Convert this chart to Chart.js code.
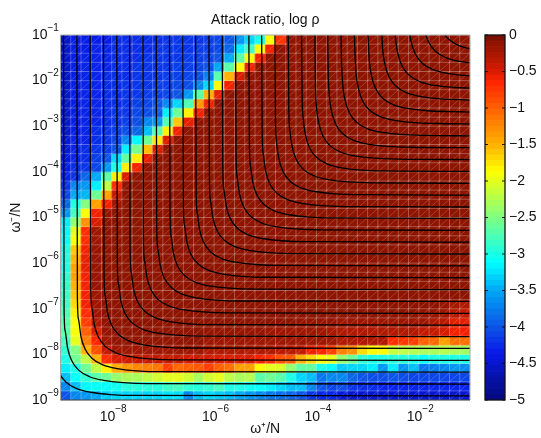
<!DOCTYPE html>
<html>
<head>
<meta charset="utf-8">
<script src="https://cdn.jsdelivr.net/npm/chart.js@4/dist/chart.umd.min.js"></script>
<style>
  body { margin: 0; background: #fff; }
  canvas { position: absolute; top: 0; }
  #main { left: 0; }
  #bar { left: 470px; }
</style>
</head>
<body>
<canvas id="main" width="480" height="438"></canvas>
<canvas id="bar" width="71" height="438"></canvas>
<script>
// log10 of omega+/N and omega-/N at the cell edges
const xEdges = [-9,-8.8,-8.6,-8.4,-8.2,-8,-7.8,-7.6,-7.4,-7.2,-7,-6.8,-6.6,-6.4,-6.2,-6,-5.8,-5.6,-5.4,-5.2,-5,-4.8,-4.6,-4.4,-4.2,-4,-3.8,-3.6,-3.4,-3.2,-3,-2.8,-2.6,-2.4,-2.2,-2,-1.8,-1.6,-1.4,-1.2,-1];
const yEdges = [-1,-1.2,-1.4,-1.6,-1.8,-2,-2.2,-2.4,-2.6,-2.8,-3,-3.2,-3.4,-3.6,-3.8,-4,-4.2,-4.4,-4.6,-4.8,-5,-5.2,-5.4,-5.6,-5.8,-6,-6.2,-6.4,-6.6,-6.8,-7,-7.2,-7.4,-7.6,-7.8,-8,-8.2,-8.4,-8.6,-8.8,-9];

const xTickValues = [-8, -6, -4, -2];
const xTickExponents = ['−8', '−6', '−4', '−2'];
const yTickValues = [-9, -8, -7, -6, -5, -4, -3, -2, -1];
const yTickExponents = ['−9', '−8', '−7', '−6', '−5', '−4', '−3', '−2', '−1'];
const barTickValues = [-5, -4.5, -4, -3.5, -3, -2.5, -2, -1.5, -1, -0.5, 0];
const barTickLabels = ['−5', '−4.5', '−4', '−3.5', '−3', '−2.5', '−2', '−1.5', '−1', '−0.5', '0'];

// log rho per cell, top row first
const D = -0.1;
const logRho = [
  [-4.5,-4.35,-4.35,-4.35,-4.35,-4.25,-4.25,-4.25,-4.25,-4.25, -4.2,-4.2,-4.2,-4.2,-4.15,-4.1,-4,-3.6,-3.3,-3, -1.9,-0.75,D,D,D,D,D,D,D,D, D,D,D,D,D,D,D,D,D,D],
  [-4.5,-4.35,-4.35,-4.3,-4.3,-4.25,-4.25,-4.25,-4.25,-4.2, -4.2,-4.2,-4.2,-4.15,-4.15,-4.1,-3.9,-3.2,-2.8,-1.9, -0.6,D,D,D,D,D,D,D,D,D, D,D,D,D,D,D,D,D,D,D],
  [-4.5,-4.35,-4.3,-4.3,-4.3,-4.25,-4.25,-4.25,-4.2,-4.2, -4.2,-4.2,-4.15,-4.15,-4.1,-4,-3.5,-2.7,-1.9,-0.6, D,D,D,D,D,D,D,D,D,D, D,D,D,D,D,D,D,D,D,D],
  [-4.5,-4.35,-4.3,-4.3,-4.3,-4.25,-4.25,-4.2,-4.2,-4.2, -4.2,-4.15,-4.15,-4.1,-4,-3.5,-2.7,-1.85,-0.6,D, D,D,D,D,D,D,D,D,D,D, D,D,D,D,D,D,D,D,D,D],
  [-4.5,-4.35,-4.3,-4.3,-4.25,-4.25,-4.25,-4.2,-4.2,-4.2, -4.15,-4.15,-4.1,-4.05,-3.75,-2.7,-1.5,-0.5,D,D, D,D,D,D,D,D,D,D,D,D, D,D,D,D,D,D,D,D,D,D],
  [-4.5,-4.35,-4.3,-4.3,-4.25,-4.25,-4.2,-4.2,-4.2,-4.15, -4.15,-4.1,-4.05,-3.7,-3.3,-1.85,-0.6,D,D,D, D,D,D,D,D,D,D,D,D,D, D,D,D,D,D,D,D,D,D,D],
  [-4.5,-4.35,-4.3,-4.3,-4.25,-4.25,-4.2,-4.2,-4.15,-4.15, -4.1,-4,-3.6,-2.7,-1.5,-0.55,D,D,D,D, D,D,D,D,D,D,D,D,D,D, D,D,D,D,D,D,D,D,D,D],
  [-4.5,-4.35,-4.3,-4.3,-4.25,-4.25,-4.2,-4.15,-4.1,-4, -3.7,-3.3,-2.75,-1.35,-0.6,D,D,D,D,D, D,D,D,D,D,D,D,D,D,D, D,D,D,D,D,D,D,D,D,D],
  [-4.5,-4.35,-4.3,-4.3,-4.25,-4.2,-4.2,-4.1,-4.05,-3.95, -3.2,-2.6,-1.8,-0.6,D,D,D,D,D,D, D,D,D,D,D,D,D,D,D,D, D,D,D,D,D,D,D,D,D,D],
  [-4.5,-4.35,-4.3,-4.3,-4.25,-4.2,-4.15,-4.05,-3.7,-3.6, -2.75,-1.6,-0.55,D,D,D,D,D,D,D, D,D,D,D,D,D,D,D,D,D, D,D,D,D,D,D,D,D,D,D],
  [-4.5,-4.35,-4.3,-4.25,-4.2,-4.15,-4.05,-3.9,-3.4,-2.7, -1.8,-0.6,D,D,D,D,D,D,D,D, D,D,D,D,D,D,D,D,D,D, D,D,D,D,D,D,D,D,D,D],
  [-4.45,-4.3,-4.3,-4.25,-4.2,-4.1,-3.7,-3.15,-2.6,-1.75, -0.5,D,D,D,D,D,D,D,D,D, D,D,D,D,D,D,D,D,D,D, D,D,D,D,D,D,D,D,D,D],
  [-4.45,-4.3,-4.25,-4.2,-4.15,-4,-3.2,-2.55,-1.55,-0.5, D,D,D,D,D,D,D,D,D,D, D,D,D,D,D,D,D,D,D,D, D,D,D,D,D,D,D,D,D,D],
  [-4.4,-4.3,-4.25,-4.15,-4,-3.3,-2.65,-1.8,-0.55,D, D,D,D,D,D,D,D,D,D,D, D,D,D,D,D,D,D,D,D,D, D,D,D,D,D,D,D,D,D,D],
  [-4.35,-4.25,-4.2,-4.1,-3.6,-3,-1.8,-0.6,D,D, D,D,D,D,D,D,D,D,D,D, D,D,D,D,D,D,D,D,D,D, D,D,D,D,D,D,D,D,D,D],
  [-4.3,-4.2,-3.9,-3.5,-2.7,-1.8,-0.5,D,D,D, D,D,D,D,D,D,D,D,D,D, D,D,D,D,D,D,D,D,D,D, D,D,D,D,D,D,D,D,D,D],
  [-4.2,-3.7,-3.6,-3.2,-2.2,-0.7,D,D,D,D, D,D,D,D,D,D,D,D,D,D, D,D,D,D,D,D,D,D,D,D, D,D,D,D,D,D,D,D,D,D],
  [-4.1,-3.5,-3.45,-2.6,-1.4,-0.4,D,D,D,D, D,D,D,D,D,D,D,D,D,D, D,D,D,D,D,D,D,D,D,D, D,D,D,D,D,D,D,D,D,D],
  [-3.9,-3,-2.5,-1.4,-0.6,-0.2,D,D,D,D, D,D,D,D,D,D,D,D,D,D, D,D,D,D,D,D,D,D,D,D, D,D,D,D,D,D,D,D,D,D],
  [-3.6,-2.8,-1.9,-0.6,-0.15,D,D,D,D,D, D,D,D,D,D,D,D,D,D,D, D,D,D,D,D,D,D,D,D,D, D,D,D,D,D,D,D,D,D,D],
  [-3.2,-2.4,-1.3,-0.5,D,D,D,D,D,D, D,D,D,D,D,D,D,D,D,D, D,D,D,D,D,D,D,D,D,D, D,D,D,D,D,D,D,D,D,D],
  [-3.15,-2,-0.7,-0.2,D,D,D,D,D,D, D,D,D,D,D,D,D,D,D,D, D,D,D,D,D,D,D,D,D,D, D,D,D,D,D,D,D,D,D,D],
  [-3.1,-1.9,-0.7,-0.2,D,D,D,D,D,D, D,D,D,D,D,D,D,D,D,D, D,D,D,D,D,D,D,D,D,D, D,D,D,D,D,D,D,D,D,D],
  [-3,-1.6,-0.6,-0.15,D,D,D,D,D,D, D,D,D,D,D,D,D,D,D,D, D,D,D,D,D,D,D,D,D,D, D,D,D,D,D,D,D,D,D,D],
  [-3,-1.5,-0.55,-0.15,D,D,D,D,D,D, D,D,D,D,D,D,D,D,D,D, D,D,D,D,D,D,D,D,D,D, D,D,D,D,D,D,D,D,D,D],
  [-3,-1.4,-0.55,-0.15,D,D,D,D,D,D, D,D,D,D,D,D,D,D,D,D, D,D,D,D,D,D,D,D,D,D, D,D,D,D,D,D,D,D,D,D],
  [-2.95,-1.4,-0.6,-0.15,D,D,D,D,D,D, D,D,D,D,D,D,D,D,D,D, D,D,D,D,D,D,D,D,D,D, D,D,D,D,D,D,D,D,D,D],
  [-2.9,-1.5,-0.6,-0.15,D,D,D,D,D,D, D,D,D,D,D,D,D,D,D,D, D,D,D,D,D,D,D,D,D,D, D,D,D,D,D,D,D,D,D,D],
  [-2.85,-1.6,-0.6,-0.2,D,D,D,D,D,D, D,D,D,D,D,D,D,D,D,D, D,D,D,D,D,D,D,D,D,D, D,D,D,D,D,D,D,D,D,D],
  [-2.8,-1.7,-0.6,-0.2,D,D,D,D,D,D, D,D,D,D,D,D,D,D,D,D, D,D,D,D,D,D,D,D,D,D, D,D,D,D,D,D,D,-0.15,-0.25,-0.3],
  [-2.75,-1.8,-0.7,-0.2,D,D,D,D,D,D, D,D,D,D,D,D,D,D,D,D, D,D,D,D,D,D,D,D,D,D, D,D,D,D,D,-0.15,-0.15,-0.2,-0.35,-0.4],
  [-2.7,-1.9,-0.8,-0.3,-0.12,D,D,D,D,D, D,D,D,D,D,D,D,D,D,D, D,D,D,-0.15,-0.15,-0.15,-0.15,-0.2,-0.2,-0.2, -0.2,-0.2,-0.2,-0.2,-0.2,-0.2,-0.3,-0.35,-0.55,-0.55],
  [-2.7,-1.9,-1,-0.5,-0.15,-0.12,-0.12,-0.12,-0.12,-0.12, -0.12,-0.12,-0.12,-0.12,-0.15,-0.15,-0.15,-0.15,-0.15,-0.15, -0.2,-0.2,-0.2,-0.2,-0.2,-0.2,-0.25,-0.3,-0.3,-0.3, -0.3,-0.3,-0.3,-0.3,-0.3,-0.4,-0.4,-0.5,-0.6,-0.6],
  [-2.8,-2,-1.2,-0.65,-0.2,-0.12,-0.12,-0.12,-0.12,-0.12, -0.12,-0.12,-0.12,-0.12,-0.2,-0.2,-0.2,-0.2,-0.2,-0.2, -0.2,-0.2,-0.2,-0.2,-0.2,-0.2,-0.2,-0.3,-0.3,-0.3, -0.3,-0.3,-0.7,-0.75,-0.8,-1,-1.05,-1.4,-1.1,-1.1],
  [-2.9,-2.5,-1.5,-0.9,-0.4,-0.2,-0.2,-0.2,-0.2,-0.2, -0.2,-0.2,-0.2,-0.2,-0.3,-0.3,-0.3,-0.3,-0.3,-0.3, -0.3,-0.35,-0.35,-0.4,-0.6,-0.65,-0.8,-1.2,-1.3,-1.7, -1.85,-1.85,-2.15,-2.2,-2.25,-2.3,-2.3,-2.25,-2.3,-2.35],
  [-3,-2.6,-2.2,-1.5,-0.7,-0.5,-0.45,-0.4,-0.4,-0.4, -0.4,-0.4,-0.45,-0.45,-0.45,-0.5,-0.5,-0.5,-0.5,-0.6, -0.7,-0.9,-0.95,-1.5,-1.7,-1.9,-2,-2.4,-2.6,-2.9, -3,-3,-2.95,-2.95,-3,-3.1,-3,-3,-3,-3],
  [-3.2,-3,-2.6,-2.2,-1.8,-1.5,-1.35,-1.25,-1.2,-1.15, -0.8,-1.05,-1,-0.95,-0.8,-1,-1.1,-1.4,-1.4,-1.85, -2,-2.05,-2.4,-2.65,-2.65,-3,-3.1,-3.35,-3.3,-3.3, -3.2,-3.6,-3.2,-3.6,-3.4,-3.8,-3.75,-3.7,-3.6,-3.65],
  [-3.4,-3.1,-2.9,-2.7,-2.6,-2.4,-2.3,-2.3,-2.2,-2.1, -2,-2,-2.1,-2.3,-2.1,-2,-2.2,-2.3,-2.25,-2.7, -2.6,-2.7,-3,-3.3,-3.4,-3.8,-3.7,-3.7,-3.9,-4, -4.05,-4.05,-4,-4.05,-4.1,-4.1,-4.1,-4.1,-4.1,-4.1],
  [-3.7,-3.4,-3.15,-3.1,-3.1,-3.05,-2.95,-2.95,-2.95,-2.95, -2.85,-2.8,-2.9,-2.95,-2.9,-2.8,-3,-3,-3.05,-3.1, -3.2,-3.3,-3.4,-3.4,-3.7,-4,-4.1,-4.05,-4.2,-4.25, -4.25,-4.3,-4.3,-4.3,-4.3,-4.3,-4.3,-4.3,-4.3,-4.3],
  [-4,-3.7,-3.6,-3.5,-3.35,-3.3,-3.3,-3.3,-3.3,-3.3, -3.25,-3.25,-3.7,-3.4,-3.3,-3.35,-3.4,-3.5,-3.6,-3.7, -3.8,-3.85,-3.9,-4,-4.2,-4.3,-4.3,-4.4,-4.5,-4.5, -4.5,-4.5,-4.5,-4.5,-4.5,-4.5,-4.5,-4.5,-4.5,-4.5],
];

// contour lines, log10 coordinates, lowest level first
const contourX = [
  [-9.19,-9.18,-9.16,-9.11,-9.03,-8.89,-8.68,-8.41,-8.02,-7.55,-1],
  [-8.94,-8.93,-8.91,-8.86,-8.78,-8.64,-8.43,-8.16,-7.77,-7.30,-1],
  [-8.68,-8.67,-8.65,-8.60,-8.52,-8.38,-8.17,-7.90,-7.51,-7.04,-1],
  [-8.42,-8.41,-8.39,-8.34,-8.26,-8.12,-7.91,-7.64,-7.25,-6.78,-1],
  [-8.16,-8.15,-8.13,-8.08,-8.00,-7.86,-7.65,-7.38,-6.99,-6.52,-1],
  [-7.90,-7.89,-7.87,-7.82,-7.74,-7.60,-7.39,-7.12,-6.73,-6.26,-1],
  [-7.65,-7.64,-7.62,-7.57,-7.49,-7.35,-7.14,-6.87,-6.48,-6.01,-1],
  [-7.39,-7.38,-7.36,-7.31,-7.23,-7.09,-6.88,-6.61,-6.22,-5.75,-1],
  [-7.13,-7.12,-7.10,-7.05,-6.97,-6.83,-6.62,-6.35,-5.96,-5.49,-1],
  [-6.87,-6.86,-6.84,-6.79,-6.71,-6.57,-6.36,-6.09,-5.70,-5.23,-1],
  [-6.61,-6.60,-6.58,-6.53,-6.45,-6.31,-6.10,-5.83,-5.44,-4.97,-1],
  [-6.36,-6.35,-6.33,-6.28,-6.20,-6.06,-5.85,-5.58,-5.19,-4.72,-1],
  [-6.10,-6.09,-6.07,-6.02,-5.94,-5.80,-5.59,-5.32,-4.93,-4.46,-1],
  [-5.84,-5.83,-5.81,-5.76,-5.68,-5.54,-5.33,-5.06,-4.67,-4.20,-1],
  [-5.58,-5.57,-5.55,-5.50,-5.42,-5.28,-5.07,-4.80,-4.41,-3.94,-1],
  [-5.32,-5.31,-5.29,-5.24,-5.16,-5.02,-4.81,-4.54,-4.15,-3.68,-1],
  [-5.07,-5.06,-5.04,-4.99,-4.91,-4.77,-4.56,-4.29,-3.90,-3.43,-1],
  [-4.81,-4.80,-4.78,-4.73,-4.65,-4.51,-4.30,-4.03,-3.64,-3.17,-1],
  [-4.55,-4.54,-4.52,-4.47,-4.39,-4.25,-4.04,-3.77,-3.38,-2.91,-1],
  [-4.29,-4.28,-4.26,-4.21,-4.13,-3.99,-3.78,-3.51,-3.12,-2.65,-1],
  [-4.03,-4.02,-4.00,-3.95,-3.87,-3.73,-3.52,-3.25,-2.86,-2.39,-1],
  [-3.78,-3.77,-3.75,-3.70,-3.62,-3.48,-3.27,-3.00,-2.61,-2.14,-1],
  [-3.52,-3.51,-3.49,-3.44,-3.36,-3.22,-3.01,-2.74,-2.35,-1.88,-1],
  [-3.26,-3.25,-3.23,-3.18,-3.10,-2.96,-2.75,-2.48,-2.09,-1.62,-1],
  [-3.00,-2.99,-2.97,-2.92,-2.84,-2.70,-2.49,-2.22,-1.83,-1.36,-1],
  [-2.73,-2.71,-2.66,-2.58,-2.44,-2.23,-1.96,-1.57,-1.10,-1],
  [-2.48,-2.46,-2.41,-2.33,-2.19,-1.98,-1.71,-1.32,-0.85],
  [-2.22,-2.20,-2.15,-2.07,-1.93,-1.72,-1.45,-1.06,-0.59],
  [-1.96,-1.94,-1.89,-1.81,-1.67,-1.46,-1.19,-0.80,-0.33],
  [-1.70,-1.68,-1.63,-1.55,-1.41,-1.20,-0.93,-0.54],
];
const contourY = [
  [-1,-7.27,-7.74,-8.13,-8.40,-8.61,-8.75,-8.83,-8.88,-8.90,-8.91],
  [-1,-7.01,-7.48,-7.87,-8.14,-8.35,-8.49,-8.57,-8.62,-8.64,-8.65],
  [-1,-6.75,-7.22,-7.61,-7.88,-8.09,-8.23,-8.31,-8.36,-8.38,-8.39],
  [-1,-6.49,-6.96,-7.35,-7.62,-7.83,-7.97,-8.05,-8.10,-8.12,-8.13],
  [-1,-6.23,-6.70,-7.09,-7.36,-7.57,-7.71,-7.79,-7.84,-7.86,-7.87],
  [-1,-5.97,-6.44,-6.83,-7.10,-7.31,-7.45,-7.53,-7.58,-7.60,-7.61],
  [-1,-5.72,-6.19,-6.58,-6.85,-7.06,-7.20,-7.28,-7.33,-7.35,-7.36],
  [-1,-5.46,-5.93,-6.32,-6.59,-6.80,-6.94,-7.02,-7.07,-7.09,-7.10],
  [-1,-5.20,-5.67,-6.06,-6.33,-6.54,-6.68,-6.76,-6.81,-6.83,-6.84],
  [-1,-4.94,-5.41,-5.80,-6.07,-6.28,-6.42,-6.50,-6.55,-6.57,-6.58],
  [-1,-4.68,-5.15,-5.54,-5.81,-6.02,-6.16,-6.24,-6.29,-6.31,-6.32],
  [-1,-4.42,-4.89,-5.28,-5.55,-5.76,-5.90,-5.98,-6.03,-6.05,-6.06],
  [-1,-4.16,-4.63,-5.02,-5.29,-5.50,-5.64,-5.72,-5.77,-5.79,-5.80],
  [-1,-3.90,-4.37,-4.76,-5.03,-5.24,-5.38,-5.46,-5.51,-5.53,-5.54],
  [-1,-3.64,-4.11,-4.50,-4.77,-4.98,-5.12,-5.20,-5.25,-5.27,-5.28],
  [-1,-3.38,-3.85,-4.24,-4.51,-4.72,-4.86,-4.94,-4.99,-5.01,-5.02],
  [-1,-3.13,-3.60,-3.99,-4.26,-4.47,-4.61,-4.69,-4.74,-4.76,-4.77],
  [-1,-2.87,-3.34,-3.73,-4.00,-4.21,-4.35,-4.43,-4.48,-4.50,-4.51],
  [-1,-2.61,-3.08,-3.47,-3.74,-3.95,-4.09,-4.17,-4.22,-4.24,-4.25],
  [-1,-2.35,-2.82,-3.21,-3.48,-3.69,-3.83,-3.91,-3.96,-3.98,-3.99],
  [-1,-2.09,-2.56,-2.95,-3.22,-3.43,-3.57,-3.65,-3.70,-3.72,-3.73],
  [-1,-1.83,-2.30,-2.69,-2.96,-3.17,-3.31,-3.39,-3.44,-3.46,-3.47],
  [-1,-1.57,-2.04,-2.43,-2.70,-2.91,-3.05,-3.13,-3.18,-3.20,-3.21],
  [-1,-1.31,-1.78,-2.17,-2.44,-2.65,-2.79,-2.87,-2.92,-2.94,-2.95],
  [-1,-1.05,-1.52,-1.91,-2.18,-2.39,-2.53,-2.61,-2.66,-2.68,-2.69],
  [-0.79,-1.26,-1.65,-1.92,-2.13,-2.27,-2.35,-2.40,-2.42,-2.43],
  [-0.54,-1.01,-1.40,-1.67,-1.88,-2.02,-2.10,-2.15,-2.17],
  [-0.28,-0.75,-1.14,-1.41,-1.62,-1.76,-1.84,-1.89,-1.91],
  [-0.02,-0.49,-0.88,-1.15,-1.36,-1.50,-1.58,-1.63,-1.65],
  [0.24,-0.23,-0.62,-0.89,-1.10,-1.24,-1.32,-1.37],
];

// the 64 colour steps of the colour bar
const barLevels = [-5,-4.922,-4.844,-4.766,-4.688,-4.609,-4.531,-4.453,-4.375,-4.297,-4.219,-4.141,-4.063,-3.984,-3.906,-3.828,-3.75,-3.672,-3.594,-3.516,-3.438,-3.359,-3.281,-3.203,-3.125,-3.047,-2.969,-2.891,-2.813,-2.734,-2.656,-2.578,-2.5,-2.422,-2.344,-2.266,-2.188,-2.109,-2.031,-1.953,-1.875,-1.797,-1.719,-1.641,-1.563,-1.484,-1.406,-1.328,-1.25,-1.172,-1.094,-1.016,-0.938,-0.859,-0.781,-0.703,-0.625,-0.547,-0.469,-0.391,-0.313,-0.234,-0.156,-0.078,0];

// jet-like colour stops as they look in the picture
const colorStops = [
  [-5, 5, 8, 124], [-4.7, 6, 18, 168], [-4.375, 8, 24, 232], [-4, 12, 85, 230],
  [-3.5, 0, 168, 245], [-3.125, 0, 255, 255], [-2.5, 128, 255, 128], [-1.875, 255, 255, 0],
  [-1.5, 255, 176, 0], [-1, 255, 95, 0], [-0.65, 255, 36, 0], [-0.5, 216, 28, 0],
  [-0.3, 176, 24, 0], [-0.1, 142, 20, 0], [0, 110, 12, 0],
];

function colorFor(v) {
  for (let k = 1; k < colorStops.length; k++) {
    const a = colorStops[k - 1], b = colorStops[k];
    if (v <= b[0]) {
      const f = (v - a[0]) / (b[0] - a[0]);
      return `rgb(${Math.round(a[1] + f * (b[1] - a[1]))},${Math.round(a[2] + f * (b[2] - a[2]))},${Math.round(a[3] + f * (b[3] - a[3]))})`;
    }
  }
  return 'rgb(110,12,0)';
}

const FONT = '"Liberation Sans", Helvetica, Arial, sans-serif';
Chart.defaults.font.family = FONT;
Chart.defaults.color = '#111';

const cellLabels = xEdges.slice(0, 40).map(String);

const heatDatasets = logRho.map((row, j) => ({
  type: 'bar',
  xAxisID: 'xCells',
  yAxisID: 'y',
  order: 1,
  grouped: false,
  barPercentage: 1,
  categoryPercentage: 1,
  borderWidth: 0,
  data: row.map(() => [yEdges[j + 1], yEdges[j]]),
  backgroundColor: row.map(colorFor),
}));

const contourDatasets = contourX.map((xs, n) => ({
  type: 'line',
  xAxisID: 'x',
  yAxisID: 'y',
  order: 0,
  borderColor: '#000',
  borderWidth: 1.3,
  pointRadius: 0,
  cubicInterpolationMode: 'monotone',
  data: xs.map((x, k) => ({ x: x, y: contourY[n][k] })),
}));

// thin light seams the cells have in the picture, under the contour lines
const seamPlugin = {
  id: 'seams',
  beforeDatasetDraw(chart, args) {
    if (args.index !== chart.data.datasets.length - 1) return;
    const { ctx, chartArea: a, scales } = chart;
    ctx.save();
    ctx.strokeStyle = 'rgba(255,255,255,0.27)';
    ctx.lineWidth = 1;
    ctx.beginPath();
    xEdges.forEach((v) => {
      const px = scales.x.getPixelForValue(v);
      ctx.moveTo(px, a.top);
      ctx.lineTo(px, a.bottom);
    });
    yEdges.forEach((v) => {
      const py = scales.y.getPixelForValue(v);
      ctx.moveTo(a.left, py);
      ctx.lineTo(a.right, py);
    });
    ctx.stroke();
    ctx.strokeStyle = 'rgba(255,255,255,0.3)';
    ctx.lineWidth = 0.6;
    ctx.beginPath();
    for (let i = 0; i < 40; i++) {
      for (let j = 0; j < 40; j++) {
        ctx.moveTo(scales.x.getPixelForValue(xEdges[i]), scales.y.getPixelForValue(yEdges[j + 1]));
        ctx.lineTo(scales.x.getPixelForValue(xEdges[i + 1]), scales.y.getPixelForValue(yEdges[j]));
      }
    }
    ctx.stroke();
    ctx.restore();
  },
  afterDatasetsDraw(chart) {
    const { ctx, chartArea: a } = chart;
    ctx.save();
    ctx.strokeStyle = '#a8a8a8';
    ctx.lineWidth = 1;
    ctx.beginPath();
    ctx.moveTo(a.left, a.bottom);
    ctx.lineTo(a.left, a.top);
    ctx.lineTo(a.right, a.top);
    ctx.lineTo(a.right, a.bottom);
    ctx.stroke();
    ctx.strokeStyle = '#333';
    ctx.beginPath();
    ctx.moveTo(a.left, a.bottom);
    ctx.lineTo(a.right, a.bottom);
    ctx.stroke();
    ctx.restore();
  },
};

// decade labels: a "10" with a raised exponent, canvas text has no superscript
const decadeLabelPlugin = {
  id: 'decadeLabels',
  afterDraw(chart) {
    const { ctx, scales } = chart;
    ctx.save();
    ctx.fillStyle = '#111';
    ctx.textAlign = 'left';
    ctx.textBaseline = 'middle';
    xTickValues.forEach((v, k) => {
      const px = scales.x.getPixelForValue(v);
      ctx.font = '14px ' + FONT;
      ctx.fillText('10', px - 12, 417);
      ctx.font = '10px ' + FONT;
      ctx.fillText(xTickExponents[k], px + 3.5, 409);
    });
    yTickValues.forEach((v, k) => {
      const py = scales.y.getPixelForValue(v);
      ctx.font = '14px ' + FONT;
      ctx.fillText('10', 32, py);
      ctx.font = '10px ' + FONT;
      ctx.fillText(yTickExponents[k], 47.5, py - 7);
    });
    ctx.restore();
  },
};

new Chart(document.getElementById('main'), {
  type: 'bar',
  data: { labels: cellLabels, datasets: heatDatasets.concat(contourDatasets) },
  plugins: [seamPlugin, decadeLabelPlugin],
  options: {
    responsive: false,
    animation: false,
    layout: { padding: { right: 10 } },
    plugins: {
      legend: { display: false },
      tooltip: { enabled: false },
      title: {
        display: true,
        fullSize: false,
        text: 'Attack ratio, log ρ',
        font: { size: 14, weight: 'normal' },
        color: '#111',
        padding: { top: 11.6, bottom: 6.6 },
      },
    },
    scales: {
      xCells: { axis: 'x', type: 'category', display: false, offset: true, grid: { display: false } },
      x: {
        type: 'linear',
        position: 'bottom',
        min: -9,
        max: -1,
        offset: false,
        grid: { display: false, drawTicks: false },
        border: { display: false },
        afterBuildTicks: (s) => { s.ticks = xTickValues.map((v) => ({ value: v })); },
        afterFit: (s) => { s.height = 38; },
        ticks: { display: false },
        title: { display: true, text: 'ω⁺/N', font: { size: 14 }, padding: 0 },
      },
      y: {
        type: 'linear',
        min: -9,
        max: -1,
        beginAtZero: false,
        grid: { display: false, drawTicks: false },
        border: { display: false },
        afterBuildTicks: (s) => { s.ticks = yTickValues.map((v) => ({ value: v })); },
        afterFit: (s) => { s.width = 60.5; },
        ticks: { display: false },
        title: { display: true, text: 'ω⁻/N', font: { size: 14 }, padding: { top: 8, bottom: 0 } },
      },
    },
  },
});

// colour bar frame and its inward tick marks
const barFramePlugin = {
  id: 'barFrame',
  afterDatasetsDraw(chart) {
    const { ctx, chartArea: a, scales } = chart;
    ctx.save();
    ctx.strokeStyle = '#111';
    ctx.lineWidth = 1.3;
    ctx.strokeRect(a.left, a.top, a.right - a.left, a.bottom - a.top);
    ctx.lineWidth = 1;
    ctx.beginPath();
    barTickValues.forEach((v) => {
      const py = scales.y.getPixelForValue(v);
      ctx.moveTo(a.left, py);
      ctx.lineTo(a.left + 3, py);
      ctx.moveTo(a.right - 3, py);
      ctx.lineTo(a.right, py);
    });
    ctx.stroke();
    ctx.restore();
  },
};

new Chart(document.getElementById('bar'), {
  type: 'bar',
  data: {
    labels: ['log ρ'],
    datasets: barLevels.slice(0, 64).map((lo, k) => ({
      grouped: false,
      barPercentage: 1,
      categoryPercentage: 1,
      borderWidth: 0,
      data: [[lo, barLevels[k + 1]]],
      backgroundColor: colorFor((lo + barLevels[k + 1]) / 2),
    })),
  },
  plugins: [barFramePlugin],
  options: {
    responsive: false,
    animation: false,
    layout: { padding: { top: 35, bottom: 38, left: 15 } },
    plugins: { legend: { display: false }, tooltip: { enabled: false } },
    scales: {
      x: { display: false, grid: { display: false } },
      y: {
        position: 'right',
        min: -5,
        max: 0,
        beginAtZero: false,
        grid: { display: false, drawTicks: false },
        border: { display: false },
        afterBuildTicks: (s) => { s.ticks = barTickValues.map((v) => ({ value: v })); },
        afterFit: (s) => { s.width = 36; },
        ticks: {
          font: { size: 14 },
          padding: 4,
          autoSkip: false,
          callback: (v) => barTickLabels[barTickValues.indexOf(v)],
        },
      },
    },
  },
});
</script>
</body>
</html>
